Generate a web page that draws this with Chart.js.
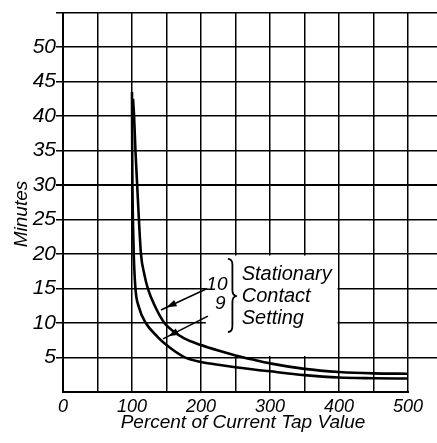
<!DOCTYPE html>
<html>
<head>
<meta charset="utf-8">
<script src="https://cdn.jsdelivr.net/npm/chart.js@4/dist/chart.umd.min.js"></script>
<style>
html,body{margin:0;padding:0;background:#fff;}
#wrap{width:437px;height:443px;position:relative;}
</style>
</head>
<body>
<div id="wrap"><canvas id="c"></canvas></div>
<script>
// Data
const xTickLabels = [0, 100, 200, 300, 400, 500];
const yTickLabels = [5, 10, 15, 20, 25, 30, 35, 40, 45, 50];

// Curve "10" (stationary contact setting 10)
const upperX = [101.5, 103, 105, 107.5, 110, 113, 118, 123, 133, 147, 160, 175, 200, 225, 250, 275, 300, 350, 400, 450, 500];
const upperY = [42.5, 40, 35, 30, 25, 20, 17, 15, 12.5, 10, 8.8, 7.8, 6.8, 6.0, 5.3, 4.7, 4.15, 3.35, 2.9, 2.7, 2.65];
// Curve "9"
const lowerX = [100, 100.1, 100.3, 100.6, 101.3, 102.5, 105, 110, 120, 137, 150, 175, 200, 225, 250, 300, 350, 400, 450, 500];
const lowerY = [43.5, 40, 35, 30, 25, 20, 15, 12.3, 10, 8, 6.8, 5.1, 4.35, 3.95, 3.6, 3.0, 2.45, 2.1, 2.0, 1.95];

const seriesLabels = ['10', '9'];
const noteLines = ['Stationary', 'Contact', 'Setting'];
const xTitle = 'Percent of Current Tap Value';
const yTitle = 'Minutes';

const FONT = '"Liberation Sans", Arial, sans-serif';

const toPts = (xs, ys) => xs.map((v, i) => ({x: v, y: ys[i]}));

const deco = {
  id: 'deco',
  beforeDatasetsDraw(chart) {
    const {ctx, scales: {x, y}} = chart;
    ctx.save();
    // white label box covering grid
    const l = x.getPixelForValue(207), r = x.getPixelForValue(400);
    const t = y.getPixelForValue(20), b = y.getPixelForValue(5);
    ctx.fillStyle = '#fff';
    ctx.fillRect(l, t + 1.5, r - l - 1.5, b - t - 3);
    // bottom axis line (0..500)
    ctx.strokeStyle = '#000';
    ctx.lineWidth = 2;
    ctx.beginPath();
    ctx.moveTo(x.getPixelForValue(0) - 1, y.getPixelForValue(0));
    ctx.lineTo(x.getPixelForValue(500) + 1, y.getPixelForValue(0));
    ctx.stroke();
    ctx.restore();
  },
  afterDatasetsDraw(chart) {
    const {ctx, scales: {x, y}} = chart;
    ctx.save();
    ctx.fillStyle = '#000';
    ctx.strokeStyle = '#000';
    const arrow = (fx, fy, tx, ty) => {
      const x1 = x.getPixelForValue(fx), y1 = y.getPixelForValue(fy);
      const x2 = x.getPixelForValue(tx), y2 = y.getPixelForValue(ty);
      ctx.lineWidth = 1.6;
      ctx.beginPath(); ctx.moveTo(x1, y1); ctx.lineTo(x2, y2); ctx.stroke();
      const dx = x2 - x1, dy = y2 - y1, len = Math.hypot(dx, dy);
      const ux = dx / len, uy = dy / len;
      const tipX = x2 - ux * len * 0.12, tipY = y2 - uy * len * 0.12;
      const bx = tipX - ux * 10, by = tipY - uy * 10;
      ctx.beginPath();
      ctx.moveTo(tipX, tipY);
      ctx.lineTo(bx - uy * 3.5, by + ux * 3.5);
      ctx.lineTo(bx + uy * 3.5, by - ux * 3.5);
      ctx.closePath(); ctx.fill();
    };
    arrow(209, 15.0, 142, 11.9);
    arrow(210, 11.0, 145, 7.7);

    ctx.font = 'italic 19px ' + FONT;
    ctx.textAlign = 'center';
    ctx.textBaseline = 'middle';
    ctx.fillText(seriesLabels[0], x.getPixelForValue(223), y.getPixelForValue(15.6));
    ctx.fillText(seriesLabels[1], x.getPixelForValue(228), y.getPixelForValue(12.75));

    // brace
    const bx0 = x.getPixelForValue(239), bx1 = x.getPixelForValue(252);
    const byT = y.getPixelForValue(19.3), byM = y.getPixelForValue(13.9), byB = y.getPixelForValue(8.7);
    const bm = (bx0 + bx1) / 2, r = 6;
    ctx.lineWidth = 1.8;
    ctx.beginPath();
    ctx.moveTo(bx0, byT);
    ctx.quadraticCurveTo(bm, byT, bm, byT + r);
    ctx.lineTo(bm, byM - r);
    ctx.quadraticCurveTo(bm, byM, bx1, byM);
    ctx.quadraticCurveTo(bm, byM, bm, byM + r);
    ctx.lineTo(bm, byB - r);
    ctx.quadraticCurveTo(bm, byB, bx0, byB);
    ctx.stroke();

    ctx.font = 'italic 20px ' + FONT;
    ctx.textAlign = 'left';
    ctx.textBaseline = 'alphabetic';
    const noteY = [16.3, 13.0, 9.9];
    noteLines.forEach((s, i) => ctx.fillText(s, x.getPixelForValue(259), y.getPixelForValue(noteY[i])));
    ctx.restore();
  },
  afterDraw(chart) {
    const {ctx} = chart;
    ctx.save();
    ctx.fillStyle = '#000';
    ctx.font = 'italic 19px ' + FONT;
    ctx.textAlign = 'center';
    ctx.textBaseline = 'alphabetic';
    ctx.fillText(xTitle, 243, 428);
    ctx.translate(27, 214);
    ctx.rotate(-Math.PI / 2);
    ctx.fillText(yTitle, 0, 0);
    ctx.restore();
  }
};

new Chart(document.getElementById('c'), {
  type: 'line',
  data: {
    datasets: [
      {label: seriesLabels[0], data: toPts(upperX, upperY)},
      {label: seriesLabels[1], data: toPts(lowerX, lowerY)}
    ]
  },
  options: {
    responsive: true,
    maintainAspectRatio: false,
    animation: false,
    layout: {padding: {top: 8, right: 0, left: 0, bottom: 0}},
    elements: {
      line: {borderColor: '#000', borderWidth: 2.6, fill: false, cubicInterpolationMode: 'monotone'},
      point: {radius: 0}
    },
    plugins: {legend: {display: false}, tooltip: {enabled: false}},
    scales: {
      x: {
        type: 'linear', min: 0, max: 542,
        afterFit: s => { s.height = 51; },
        border: {display: false},
        grid: {color: '#000', lineWidth: c => c.tick && c.tick.value === 0 ? 2 : 1.5, drawTicks: false},
        ticks: {
          stepSize: 50, includeBounds: false, padding: 6, maxRotation: 0, autoSkip: false,
          color: '#000', font: {family: FONT, size: 18, style: 'italic', lineHeight: 1},
          callback: v => xTickLabels.includes(v) ? String(v) : ''
        }
      },
      y: {
        type: 'linear', min: 0, max: 55,
        afterFit: s => { s.width = 63; },
        border: {display: false},
        grid: {
          color: c => c.tick && c.tick.value === 0 ? 'rgba(0,0,0,0)' : '#000',
          lineWidth: c => c.tick && c.tick.value === 30 ? 2 : 1.5,
          drawTicks: true, tickLength: 7
        },
        ticks: {
          stepSize: 5, padding: 0, autoSkip: false,
          color: '#000', font: {family: FONT, size: 21, style: 'italic'},
          callback: v => yTickLabels.includes(v) ? String(v) : ''
        }
      }
    }
  },
  plugins: [deco]
});
</script>
</body>
</html>
